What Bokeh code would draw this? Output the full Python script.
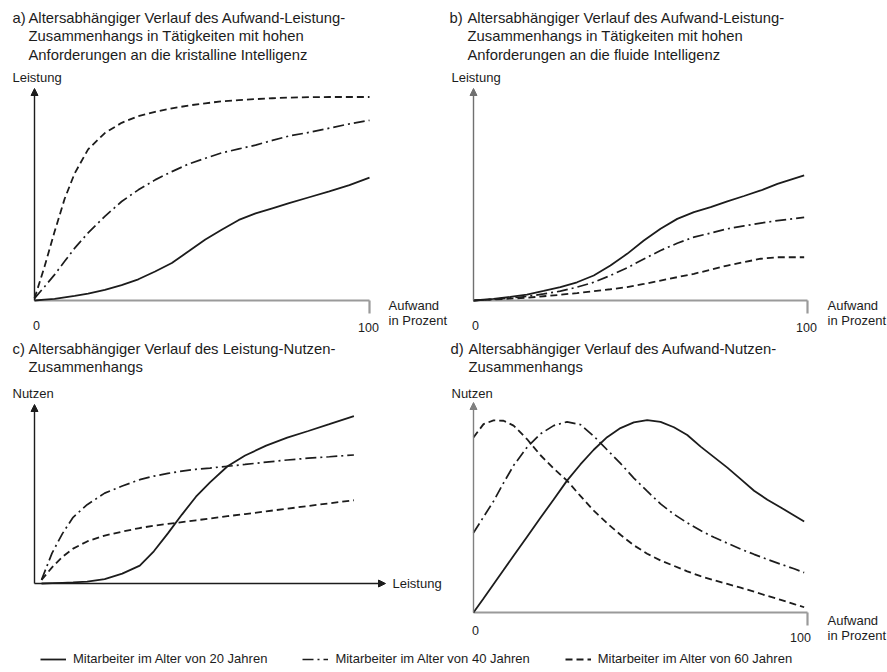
from bokeh.plotting import figure
from bokeh.models import Range1d, Arrow, NormalHead, Legend, LegendItem
from bokeh.embed import file_html
from bokeh.resources import INLINE
from bokeh.core.properties import value

# ---------------- data ----------------
SERIES = ["Mitarbeiter im Alter von 20 Jahren",
          "Mitarbeiter im Alter von 40 Jahren",
          "Mitarbeiter im Alter von 60 Jahren"]

# a) Aufwand -> Leistung, kristalline Intelligenz
A_X = [0, 3, 6, 9, 12, 16, 21, 26, 31, 36, 41, 46, 51, 56, 61, 66, 71, 76, 82, 88, 94, 100]
A_Y20 = [0, 0.4, 0.8, 1.5, 2.2, 3.2, 5, 7.3, 10, 13.7, 17.7, 23.2, 28.8, 33.5, 38, 41.1, 43.5, 45.9, 48.7, 51.5, 54.4, 58]
A_Y40 = [1, 6.5, 12.2, 18.5, 24.7, 31.9, 39.7, 46.7, 52.2, 56.9, 60.8, 64.4, 67.1, 69.7, 71.5, 73.3, 75.5, 77.6, 79.3, 81.3, 83.3, 85]
A_Y60 = [1, 16, 32.5, 48, 60, 71.3, 79, 83.8, 87, 89, 90.6, 92, 93, 94, 94.5, 95, 95.4, 95.7, 95.9, 96, 96, 96]

# b) Aufwand -> Leistung, fluide Intelligenz
B_X = [0, 6, 11, 16, 21, 26, 31, 36, 41, 46, 51, 56, 61, 66, 71, 76, 81, 86, 91, 99]
B_Y20 = [0, 0.8, 1.7, 2.8, 4.5, 6.3, 8.6, 11.8, 16.5, 22, 28.3, 33.8, 38.5, 41.7, 44, 46.8, 49.3, 51.9, 55, 59]
B_Y40 = [0, 0.6, 1.2, 1.9, 3.1, 4.4, 6.3, 8.6, 11.8, 15.4, 19.6, 23.6, 27, 29.9, 31.8, 33.8, 35.2, 36.5, 37.7, 39.2]
B_Y60 = [0, 0.5, 0.9, 1.3, 2, 2.7, 3.5, 4.4, 5.3, 6.3, 7.8, 9.4, 11, 12.6, 14.5, 16.5, 18.1, 19.7, 20.4, 20.4]

# c) Leistung -> Nutzen
C_X = [2, 5, 8, 11, 15, 20, 25, 30, 34, 38, 42, 46, 50, 55, 60, 66, 72, 78, 84, 91]
C_Y20 = [0, 0.2, 0.4, 0.6, 1, 2.5, 5.5, 10, 18, 28, 38.5, 48.5, 56.5, 65.5, 71.5, 77, 81.5, 85.2, 89, 93.5]
C_Y40 = [2, 17, 28, 37, 44, 50.5, 54.5, 58, 60, 61.5, 62.8, 63.8, 64.5, 65.5, 66.5, 67.8, 69, 70, 70.8, 71.8]
C_Y60 = [2, 9, 15, 19.5, 23.5, 26.8, 29, 31, 32.3, 33.3, 34.3, 35.3, 36.3, 37.6, 38.8, 40.3, 41.8, 43.3, 44.8, 46.5]

# d) Aufwand -> Nutzen
D_X = [0, 3, 6, 9, 12, 16, 20, 24, 28, 32, 36, 40, 44, 48, 52, 56, 60, 64, 68, 72, 76, 80, 84, 88, 92, 96, 99]
D_Y20 = [0, 6.7, 13.5, 20.2, 27, 36, 45, 53.8, 62.8, 70.5, 77.5, 83.5, 87.8, 90.5, 91.6, 90.8, 88.2, 84.5, 79, 74, 69, 63.5, 58, 53.7, 50, 46.2, 43.3]
D_Y40 = [38, 45.5, 53, 61.7, 70, 78.6, 85, 89, 90.8, 89.5, 84, 77.5, 71, 64, 57.8, 51.7, 46.8, 42.7, 39, 35.8, 33, 30.2, 27.7, 25.3, 23, 20.8, 19]
D_Y60 = [83.4, 89.7, 91.5, 91.3, 89, 82.6, 75, 68.6, 62.8, 55.5, 48.5, 42.5, 37, 32, 28, 24.8, 22.2, 19.6, 17.3, 15.4, 13.6, 11.8, 9.9, 7.9, 6, 4, 2.5]

TITLES = {
    "a": ["a)", "Altersabhängiger Verlauf des Aufwand-Leistung-",
          "Zusammenhangs in Tätigkeiten mit hohen",
          "Anforderungen an die kristalline Intelligenz"],
    "b": ["b)", "Altersabhängiger Verlauf des Aufwand-Leistung-",
          "Zusammenhangs in Tätigkeiten mit hohen",
          "Anforderungen an die fluide Intelligenz"],
    "c": ["c)", "Altersabhängiger Verlauf des Leistung-Nutzen-", "Zusammenhangs"],
    "d": ["d)", "Altersabhängiger Verlauf des Aufwand-Nutzen-", "Zusammenhangs"],
}
Y_LABELS = {"a": "Leistung", "b": "Leistung", "c": "Nutzen", "d": "Nutzen"}
X_LABELS = {"a": ["Aufwand", "in Prozent"], "b": ["Aufwand", "in Prozent"],
            "c": ["Leistung"], "d": ["Aufwand", "in Prozent"]}
TICKS = ["0", "100"]

# ---------------- layout (pixels) ----------------
LEFT, RIGHT, TOP, BOTTOM = 0, 887, 0, 672
# origin x, origin y, x of 100, y of top of axis
GEOM = {"a": (34, 300, 369, 88), "b": (473, 300, 807, 88),
        "c": (34, 583, 385, 404), "d": (473, 612, 807, 402)}
TITLE_POS = {"a": (12, 28, [17, 35.5, 54]), "b": (449, 467, [17, 35.5, 54]),
             "c": (12, 28, [348, 366]), "d": (450, 468, [348, 366])}
YLAB_POS = {"a": (12, 77), "b": (451, 77), "c": (12, 393), "d": (451, 393)}
XLAB_POS = {"a": (388, [305, 320]), "b": (827, [305, 320]), "c": (392, [583]), "d": (827, [620, 635])}
TICK_POS = {"a": [(36, 325), (368, 327)], "b": [(475, 325), (806, 327)], "d": [(475, 630), (800, 637)]}

INK = "#1c1c1c"
GREY = "#9a9a9a"
FONT = "Liberation Sans"

p = figure(width=RIGHT - LEFT, height=BOTTOM - TOP,
           x_range=Range1d(LEFT, RIGHT), y_range=Range1d(BOTTOM, TOP),
           x_axis_location=None, y_axis_location=None,
           toolbar_location=None, output_backend="svg", min_border=0, title=None)
p.grid.visible = False
p.outline_line_color = None
p.background_fill_color = "white"

xr, yr, scale = {}, {}, {}
for k, (ox, oy, x100, y100) in GEOM.items():
    sx = (x100 - ox) / 100.0
    sy = (oy - y100) / 100.0
    scale[k] = (sx, sy)
    xr[k] = Range1d((LEFT - ox) / sx, (RIGHT - ox) / sx)
    yr[k] = Range1d((oy - BOTTOM) / sy, (oy - TOP) / sy)
p.extra_x_ranges = xr
p.extra_y_ranges = yr

STY = [dict(line_color=INK, line_width=1.8),
       dict(line_color=INK, line_width=1.7, line_dash="11 4 2 4"),
       dict(line_color=INK, line_width=1.8, line_dash="7 4")]

DATA = {"a": (A_X, [A_Y20, A_Y40, A_Y60]), "b": (B_X, [B_Y20, B_Y40, B_Y60]),
        "c": (C_X, [C_Y20, C_Y40, C_Y60]), "d": (D_X, [D_Y20, D_Y40, D_Y60])}

AXCOL = {"a": (INK, GREY), "b": ("#707070", GREY), "c": (INK, INK), "d": ("#808080", GREY)}

legend_renderers = []
for k in ["a", "b", "c", "d"]:
    sx, sy = scale[k]
    ycol, xcol = AXCOL[k]
    p.add_layout(Arrow(end=NormalHead(size=7, fill_color=ycol, line_color=ycol, line_width=1),
                       x_start=0, y_start=0, x_end=0, y_end=100,
                       line_color=ycol, line_width=1.4, x_range_name=k, y_range_name=k))
    if k == "c":
        p.add_layout(Arrow(end=NormalHead(size=7, fill_color=xcol, line_color=xcol, line_width=1),
                           x_start=0, y_start=0, x_end=100, y_end=0,
                           line_color=xcol, line_width=1.4, x_range_name=k, y_range_name=k))
    else:
        p.segment(x0=[0, 100], y0=[0, 0], x1=[100, 100], y1=[0, -13 / sy],
                  line_color=xcol, line_width=2.2, x_range_name=k, y_range_name=k)
    xs, ys = DATA[k]
    for yv, st in zip(ys, STY):
        r = p.line(xs, yv, x_range_name=k, y_range_name=k, **st)
        if k == "a":
            legend_renderers.append(r)

def put(x, y, t, size, align="left"):
    p.text(x=x, y=y, text=t, text_font=value(FONT), text_font_size=size,
           text_color=INK, text_align=align, text_baseline="middle")

for k, lines in TITLES.items():
    lx, tx, ys = TITLE_POS[k]
    put([lx], [ys[0]], [lines[0]], "14.8px")
    put([tx] * (len(lines) - 1), ys, lines[1:], "14.8px")
    yx, yy = YLAB_POS[k]
    put([yx], [yy], [Y_LABELS[k]], "13px")
    xx, xys = XLAB_POS[k]
    put([xx] * len(xys), xys, X_LABELS[k], "13px")
    if k in TICK_POS:
        (x0, y0), (x1, y1) = TICK_POS[k]
        put([x0, x1], [y0, y1], TICKS, "12.5px", align="center")

items = [LegendItem(label=lab, renderers=[r]) for lab, r in zip(SERIES, legend_renderers)]
leg = Legend(items=items, orientation="horizontal", location=(40, 6),
             glyph_width=26, glyph_height=12, label_standoff=7, spacing=35,
             padding=0, margin=0, border_line_color=None, background_fill_alpha=0,
             label_text_font=FONT, label_text_font_size="13px", label_text_color=INK,
             label_height=12)
p.add_layout(leg)

open("out.html", "w").write(file_html(p, INLINE))
